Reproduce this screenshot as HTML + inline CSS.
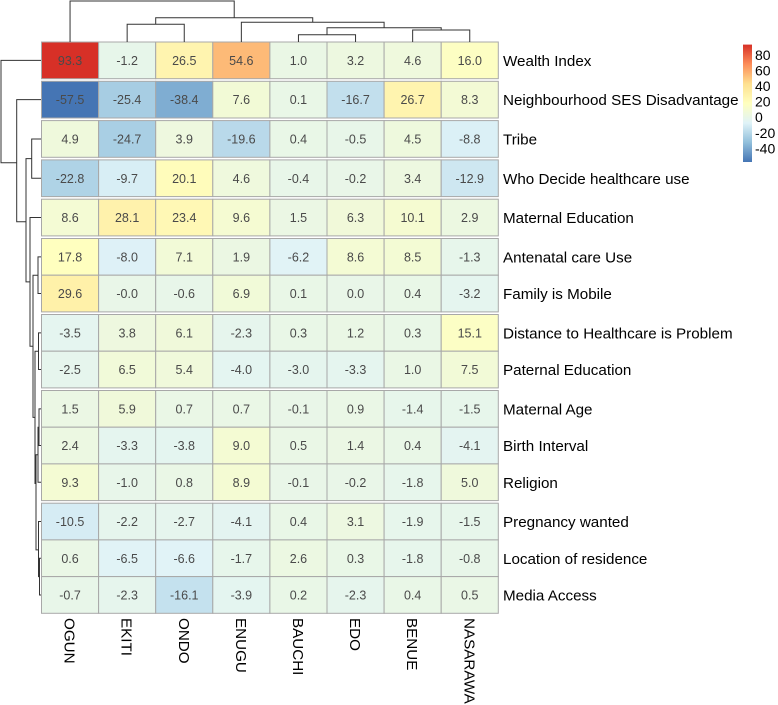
<!DOCTYPE html>
<html><head><meta charset="utf-8"><style>
html,body{margin:0;padding:0;background:#fff;}
svg{display:block;font-family:"Liberation Sans",sans-serif;}
</style></head><body>
<svg id="chart" width="778" height="705"></svg>
<script>
const cols=["OGUN","EKITI","ONDO","ENUGU","BAUCHI","EDO","BENUE","NASARAWA"];
const rows=["Wealth Index","Neighbourhood SES Disadvantage","Tribe","Who Decide healthcare use","Maternal Education","Antenatal care Use","Family is Mobile","Distance to Healthcare is Problem","Paternal Education","Maternal Age","Birth Interval","Religion","Pregnancy wanted","Location of residence","Media Access"];
const rowGroup=[0,1,2,3,4,5,5,6,6,7,7,7,8,8,8];
const values=[
[93.3,-1.2,26.5,54.6,1.0,3.2,4.6,16.0],
[-57.5,-25.4,-38.4,7.6,0.1,-16.7,26.7,8.3],
[4.9,-24.7,3.9,-19.6,0.4,-0.5,4.5,-8.8],
[-22.8,-9.7,20.1,4.6,-0.4,-0.2,3.4,-12.9],
[8.6,28.1,23.4,9.6,1.5,6.3,10.1,2.9],
[17.8,-8.0,7.1,1.9,-6.2,8.6,8.5,-1.3],
[29.6,-0.01,-0.6,6.9,0.1,0.0,0.4,-3.2],
[-3.5,3.8,6.1,-2.3,0.3,1.2,0.3,15.1],
[-2.5,6.5,5.4,-4.0,-3.0,-3.3,1.0,7.5],
[1.5,5.9,0.7,0.7,-0.1,0.9,-1.4,-1.5],
[2.4,-3.3,-3.8,9.0,0.5,1.4,0.4,-4.1],
[9.3,-1.0,0.8,8.9,-0.1,-0.2,-1.8,5.0],
[-10.5,-2.2,-2.7,-4.1,0.4,3.1,-1.9,-1.5],
[0.6,-6.5,-6.6,-1.7,2.6,0.3,-1.8,-0.8],
[-0.7,-2.3,-16.1,-3.9,0.2,-2.3,0.4,0.5]];
const legendTicks=[80,60,40,20,0,-20,-40];
const palette=["#4575B4","#91BFDB","#E0F3F8","#FFFFBF","#FEE090","#FC8D59","#D73027"];

const NS="http://www.w3.org/2000/svg";
const svg=document.getElementById('chart');
function mk(t,a,p){const e=document.createElementNS(NS,t);for(const k in a)e.setAttribute(k,a[k]);(p||svg).appendChild(e);return e;}
function fmt(v){const s=v.toFixed(1);return (v<0&&s==="0.0")?"-0.0":s;}
const flat=values.flat();
const vmin=Math.min(...flat),vmax=Math.max(...flat);
function hex(h){return [1,3,5].map(i=>parseInt(h.substr(i,2),16));}
function color(v){let t=(v-vmin)/(vmax-vmin)*(palette.length-1);t=Math.max(0,Math.min(palette.length-1,t));const i=Math.min(Math.floor(t),palette.length-2),f=t-i;const a=hex(palette[i]),b=hex(palette[i+1]);return "rgb("+a.map((x,k)=>Math.round(x+(b[k]-x)*f)).join(",")+")";}
const x0=41.5,cw=57.1,y0=42,rh=36.7,gap=2.6;
function cx(j){return x0+j*cw;}
function ry(i){return y0+i*rh+rowGroup[i]*gap;}
const gCells=mk('g',{});


rows.forEach((r,i)=>{
  cols.forEach((c,j)=>{
    const v=values[i][j];
    const rc=mk('rect',{x:cx(j),y:ry(i),width:cw,height:rh,fill:color(v),stroke:"#a8a8a8","stroke-width":1},gCells);
    
    
    const t=mk('text',{x:cx(j)+cw/2,y:ry(i)+rh/2+4.5,"text-anchor":"middle","font-size":"12.5",fill:"#4a4a4a"},gCells);
    t.textContent=fmt(v);
    
    
  });
  const l=mk('text',{x:503,y:ry(i)+rh/2+5.5,"font-size":"15.2",fill:"#000"});
  l.textContent=r;
  
  
});
cols.forEach((c,j)=>{
  const xx=cx(j)+cw/2-5.5;
  const t=mk('text',{x:0,y:0,transform:"translate("+xx+",618) rotate(90)","font-size":"15.2",fill:"#000"});
  t.textContent=c;
  
  
});
const defs=mk('defs',{});
const lg=mk('linearGradient',{id:"lg",x1:0,y1:1,x2:0,y2:0},defs);
palette.forEach((p,i)=>mk('stop',{offset:i/(palette.length-1),"stop-color":p},lg));
const lTop=44.6,lBot=162;
function ly(v){return lBot-(v-vmin)/(vmax-vmin)*(lBot-lTop);}
const bar=mk('rect',{x:743,y:lTop,width:9,height:lBot-lTop,fill:"url(#lg)"});


legendTicks.forEach(v=>{
  const t=mk('text',{x:755,y:ly(v)+5,"font-size":"14","fill":"#000"});
  t.textContent=v;
  
  
});
const dg=mk('g',{stroke:"#333","stroke-width":1,fill:"none"});


function seg(pts){mk('polyline',{points:pts.map(p=>p.join(',')).join(' ')},dg);}
function cc(j){return cx(j)+cw/2;}
seg([[cc(1),42],[cc(1),24.3],[cc(2),24.3],[cc(2),42]]);
seg([[cc(4),42],[cc(4),34.7],[cc(5),34.7],[cc(5),42]]);
seg([[cc(6),42],[cc(6),30],[cc(7),30],[cc(7),42]]);
const m45=(cc(4)+cc(5))/2,m67=(cc(6)+cc(7))/2;
seg([[m45,34.7],[m45,27.7],[m67,27.7],[m67,30]]);
const mB=(m45+m67)/2;
seg([[cc(3),42],[cc(3),22.3],[mB,22.3],[mB,27.7]]);
const m12=(cc(1)+cc(2))/2,mC=(cc(3)+mB)/2;
seg([[m12,24.3],[m12,17.7],[mC,17.7],[mC,22.3]]);
const mD=(m12+mC)/2;
seg([[cc(0),42],[cc(0),1],[mD,1],[mD,17.7]]);
function rc2(i){return ry(i)+rh/2;}
seg([[41,rc2(2)],[31.7,rc2(2)],[31.7,rc2(3)],[41,rc2(3)]]);
seg([[41,rc2(5)],[38,rc2(5)],[38,rc2(6)],[41,rc2(6)]]);
seg([[41,rc2(7)],[38.5,rc2(7)],[38.5,rc2(8)],[41,rc2(8)]]);
seg([[41,rc2(9)],[39,rc2(9)],[39,rc2(10)],[41,rc2(10)]]);
seg([[39,(rc2(9)+rc2(10))/2],[38,(rc2(9)+rc2(10))/2],[38,rc2(11)],[41,rc2(11)]]);
seg([[41,rc2(13)],[39.5,rc2(13)],[39.5,rc2(14)],[41,rc2(14)]]);
seg([[39.5,(rc2(13)+rc2(14))/2],[38.5,(rc2(13)+rc2(14))/2],[38.5,rc2(12)],[41,rc2(12)]]);
const a1=(rc2(9)+rc2(10))/2, a2=(rc2(12)+rc2(13))/2;
seg([[38,(a1+rc2(11))/2],[36,(a1+rc2(11))/2],[36,a2+10],[38.5,a2+10]]);
const b1=(rc2(7)+rc2(8))/2, b2=(a1+a2)/2;
seg([[38.5,b1],[35,b1],[35,b2],[36,b2]]);
const c1=(rc2(5)+rc2(6))/2,c2=(b1+b2)/2;
seg([[38,c1],[33,c1],[33,c2],[35,c2]]);
const d2=(c1+c2)/2;
seg([[41,rc2(4)],[30,rc2(4)],[30,d2],[33,d2]]);
const e1=(rc2(2)+rc2(3))/2,e2=(rc2(4)+d2)/2;
seg([[31.7,e1],[26,e1],[26,e2],[30,e2]]);
seg([[41,rc2(1)],[16.7,rc2(1)],[16.7,221.7],[26,221.7]]);
seg([[41,rc2(0)],[1,rc2(0)],[1,162.7],[16.7,162.7]]);
</script>
</body></html>
